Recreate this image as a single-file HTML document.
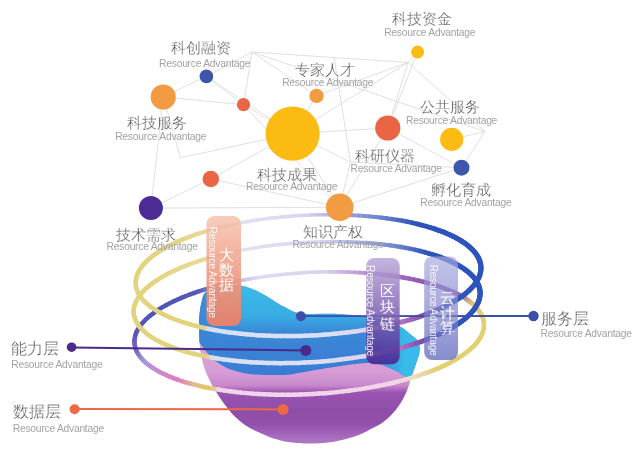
<!DOCTYPE html><html><head><meta charset="utf-8"><style>html,body{margin:0;padding:0;background:#fff;}svg{display:block;will-change:transform}.cn{font-family:"Liberation Sans",sans-serif;fill:#4c4c4c;font-size:15px;stroke:#fff;stroke-width:0.3px}.w{stroke:none}.ra{font-family:"Liberation Sans",sans-serif;fill:#a3a3a3;font-size:10.3px;letter-spacing:-0.25px}.w{fill:#fff}</style></head><body><svg width="638" height="452" viewBox="0 0 638 452"><defs>
<linearGradient id="gPur" gradientUnits="userSpaceOnUse" x1="0" y1="342" x2="0" y2="445"><stop offset="0" stop-color="#dca6da"/><stop offset="0.29" stop-color="#d69cd5"/><stop offset="0.42" stop-color="#c989cc"/><stop offset="0.49" stop-color="#9a54b1"/><stop offset="0.66" stop-color="#8f4daa"/><stop offset="0.8" stop-color="#934fac"/><stop offset="0.92" stop-color="#a66bbe"/><stop offset="1" stop-color="#b07ac4"/></linearGradient>
<linearGradient id="gBlue" gradientUnits="userSpaceOnUse" x1="0" y1="285" x2="0" y2="375"><stop offset="0" stop-color="#3cbde9"/><stop offset="0.35" stop-color="#38abe3"/><stop offset="0.52" stop-color="#3a88d7"/><stop offset="1" stop-color="#3a7bd4"/></linearGradient>
<linearGradient id="gBlueR" gradientUnits="userSpaceOnUse" x1="370" y1="0" x2="405" y2="0"><stop offset="0" stop-color="#38bbe8" stop-opacity="0"/><stop offset="1" stop-color="#38bbe8"/></linearGradient>
<linearGradient id="gBlueL" gradientUnits="userSpaceOnUse" x1="200" y1="0" x2="245" y2="0"><stop offset="0" stop-color="#3a84d6" stop-opacity="0.9"/><stop offset="1" stop-color="#3a84d6" stop-opacity="0"/></linearGradient>
<linearGradient id="gBox1" x1="0" y1="0" x2="0" y2="1"><stop offset="0" stop-color="#f6c0ac" stop-opacity="0.82"/><stop offset="0.6" stop-color="#ee977f" stop-opacity="0.93"/><stop offset="1" stop-color="#e8806a" stop-opacity="0.97"/></linearGradient>
<linearGradient id="gBox2" x1="0" y1="0" x2="0" y2="1"><stop offset="0" stop-color="#baa7d8" stop-opacity="0.85"/><stop offset="1" stop-color="#492694" stop-opacity="0.9"/></linearGradient>
<linearGradient id="gBox3" x1="0" y1="0" x2="0" y2="1"><stop offset="0" stop-color="#a9a8de" stop-opacity="0.68"/><stop offset="1" stop-color="#5d64bd" stop-opacity="0.74"/></linearGradient>
<clipPath id="bowlClip"><path d="M199.2,318.0 C199.6,313.5 200.3,307.1 201.4,302.8 C202.5,298.5 202.6,294.9 206.0,292.0 C209.4,289.1 216.0,286.6 222.0,285.5 C228.0,284.4 235.5,284.4 242.0,285.7 C248.5,286.9 254.1,289.5 261.0,293.0 C267.9,296.5 277.0,303.2 283.7,306.6 C290.4,310.0 291.9,312.3 301.0,313.5 C310.1,314.7 325.5,313.2 338.0,314.0 C350.5,314.8 365.9,316.0 376.0,318.0 C386.1,320.0 393.1,323.3 398.8,326.0 C404.5,328.7 406.8,331.4 410.0,334.0 C413.2,336.6 416.7,338.9 418.3,341.9 C419.9,344.9 419.7,348.6 419.4,352.0 C419.1,355.4 417.7,358.2 416.5,362.0 C415.3,365.8 413.3,371.0 412.0,375.0 C410.7,379.0 410.0,382.3 408.7,385.9 C407.4,389.5 405.9,393.2 404.3,396.5 C402.7,399.8 401.1,402.4 399.0,405.4 C396.9,408.3 394.6,411.4 391.9,414.2 C389.2,417.0 386.2,419.8 383.0,422.2 C379.8,424.6 376.2,426.2 372.4,428.3 C368.6,430.4 364.4,432.7 360.0,434.5 C355.6,436.3 350.9,437.7 345.9,439.0 C340.9,440.3 336.0,441.5 330.0,442.3 C324.0,443.1 316.7,443.6 310.0,443.6 C303.3,443.6 294.9,442.7 290.0,442.2 C285.1,441.7 284.1,441.3 280.5,440.4 C276.9,439.4 272.3,438.1 268.2,436.5 C264.1,434.9 259.7,433.0 255.8,431.1 C251.9,429.2 248.3,427.2 244.9,424.9 C241.5,422.6 238.5,420.0 235.6,417.2 C232.7,414.4 230.2,411.5 227.6,408.2 C225.0,404.9 222.1,400.8 219.8,397.4 C217.5,394.0 215.4,391.1 213.6,388.0 C211.8,384.9 210.6,382.2 209.0,378.8 C207.4,375.4 205.6,371.8 204.3,367.9 C203.0,364.0 202.0,359.4 201.2,355.5 C200.4,351.6 200.0,348.9 199.7,344.7 C199.4,340.4 199.3,334.4 199.2,330.0 C199.1,325.6 198.8,322.5 199.2,318.0 Z"/></clipPath></defs><rect width="638" height="452" fill="#fff"/><g stroke="#e0e0e0" stroke-width="1" fill="none"><path d="M252.0 52.0L408.0 62.5"/><path d="M252.0 52.0L206.4 76.4"/><path d="M252.0 52.0L243.5 104.7"/><path d="M252.0 52.0L316.5 95.9"/><path d="M408.0 62.5L417.6 52.0"/><path d="M408.0 62.5L316.5 95.9"/><path d="M408.0 62.5L387.8 128.0"/><path d="M408.0 62.5L485.0 131.5"/><path d="M408.0 62.5L292.6 133.6"/><path d="M206.4 76.4L163.2 97.0"/><path d="M206.4 76.4L243.5 104.7"/><path d="M206.4 76.4L292.6 133.6"/><path d="M163.2 97.0L243.5 104.7"/><path d="M243.5 104.7L292.6 133.6"/><path d="M316.5 95.9L292.6 133.6"/><path d="M163.2 97.0L150.9 208.1"/><path d="M163.2 97.0L180.5 157.7"/><path d="M180.5 157.7L292.6 133.6"/><path d="M210.8 179.0L150.9 208.1"/><path d="M210.8 179.0L292.6 133.6"/><path d="M150.9 208.1L339.7 207.2"/><path d="M387.8 128.0L461.5 167.7"/><path d="M451.7 139.4L485.0 131.5"/><path d="M485.0 131.5L461.5 167.7"/><path d="M461.5 167.7L339.7 207.2"/><path d="M387.8 128.0L339.7 207.2"/><path d="M292.6 133.6L339.7 207.2"/><path d="M292.6 133.6L387.8 128.0"/><path d="M417.6 52.0L387.8 128.0"/><path d="M210.8 179.0L339.7 207.2"/><path d="M350.5 162.0L292.6 133.6"/><path d="M350.5 162.0L339.7 207.2"/><path d="M350.5 162.0L461.5 167.7"/><path d="M350.5 162.0L334.0 56.5"/><path d="M243.5 104.7L339.7 207.2"/><path d="M252.0 52.0L485.0 131.5"/></g><g stroke-linecap="round" fill="none"><path d="M135.7 283.8L135.7 281.7" stroke="#e2d47e" stroke-width="4.50"/><path d="M135.7 281.7L135.9 279.6" stroke="#e2d47e" stroke-width="4.50"/><path d="M135.9 279.6L136.3 277.5" stroke="#e2d47e" stroke-width="4.50"/><path d="M136.3 277.5L137.0 275.4" stroke="#e2d47e" stroke-width="4.50"/><path d="M137.0 275.4L137.8 273.3" stroke="#e2d47e" stroke-width="4.50"/><path d="M137.8 273.3L138.9 271.2" stroke="#e2d47e" stroke-width="4.50"/><path d="M138.9 271.2L140.1 269.0" stroke="#e2d47e" stroke-width="4.50"/><path d="M140.1 269.0L141.6 266.9" stroke="#e2d47e" stroke-width="4.50"/><path d="M141.6 266.9L143.2 264.8" stroke="#e2d47e" stroke-width="4.50"/><path d="M143.2 264.8L145.1 262.8" stroke="#e2d47e" stroke-width="4.50"/><path d="M145.1 262.8L147.2 260.7" stroke="#e2d47e" stroke-width="4.50"/><path d="M147.2 260.7L149.4 258.7" stroke="#e2d47e" stroke-width="4.50"/><path d="M149.4 258.7L151.9 256.6" stroke="#e2d47e" stroke-width="4.50"/><path d="M151.9 256.6L154.5 254.6" stroke="#e2d47e" stroke-width="4.50"/><path d="M154.5 254.6L157.4 252.6" stroke="#e2d47e" stroke-width="4.50"/><path d="M157.4 252.6L160.4 250.7" stroke="#e2d47e" stroke-width="4.50"/><path d="M160.4 250.7L163.6 248.8" stroke="#e2d47e" stroke-width="4.50"/><path d="M163.6 248.8L166.9 246.9" stroke="#e2d47e" stroke-width="4.50"/><path d="M166.9 246.9L170.5 245.0" stroke="#e2d480" stroke-width="4.50"/><path d="M170.5 245.0L174.2 243.2" stroke="#e2d582" stroke-width="4.50"/><path d="M174.2 243.2L178.1 241.4" stroke="#e3d585" stroke-width="4.50"/><path d="M178.1 241.4L182.1 239.7" stroke="#e3d687" stroke-width="4.50"/><path d="M182.1 239.7L186.3 238.0" stroke="#e3d68a" stroke-width="4.50"/><path d="M186.3 238.0L190.6 236.4" stroke="#e4d78c" stroke-width="4.39"/><path d="M190.6 236.4L195.1 234.8" stroke="#e4d88f" stroke-width="4.28"/><path d="M195.1 234.8L199.7 233.2" stroke="#e5d891" stroke-width="4.17"/><path d="M199.7 233.2L204.5 231.7" stroke="#e5d994" stroke-width="4.06"/><path d="M204.5 231.7L209.3 230.3" stroke="#e5d996" stroke-width="3.95"/><path d="M209.3 230.3L214.3 228.9" stroke="#e5da9f" stroke-width="3.84"/><path d="M214.3 228.9L219.5 227.5" stroke="#e5dbaf" stroke-width="3.73"/><path d="M219.5 227.5L224.7 226.3" stroke="#e5dcbe" stroke-width="3.62"/><path d="M224.7 226.3L230.0 225.1" stroke="#e4decd" stroke-width="3.51"/><path d="M230.0 225.1L235.4 223.9" stroke="#e4dfdd" stroke-width="3.40"/><path d="M235.4 223.9L240.9 222.8" stroke="#e4e0ec" stroke-width="3.41"/><path d="M240.9 222.8L246.5 221.8" stroke="#e3e0f3" stroke-width="3.42"/><path d="M246.5 221.8L252.2 220.8" stroke="#e2dff3" stroke-width="3.43"/><path d="M252.2 220.8L257.9 219.9" stroke="#e1def3" stroke-width="3.45"/><path d="M257.9 219.9L263.7 219.1" stroke="#e0ddf3" stroke-width="3.46"/><path d="M263.7 219.1L269.5 218.3" stroke="#dfdcf3" stroke-width="3.47"/><path d="M269.5 218.3L275.4 217.7" stroke="#dedbf3" stroke-width="3.48"/><path d="M275.4 217.7L281.4 217.0" stroke="#dcdaf2" stroke-width="3.49"/><path d="M281.4 217.0L287.3 216.5" stroke="#dbd9f2" stroke-width="3.50"/><path d="M287.3 216.5L293.3 216.0" stroke="#dad8f2" stroke-width="3.51"/><path d="M293.3 216.0L299.3 215.6" stroke="#d9d7f2" stroke-width="3.53"/><path d="M299.3 215.6L305.4 215.3" stroke="#d8d6f2" stroke-width="3.54"/><path d="M305.4 215.3L311.4 215.0" stroke="#d3d2f0" stroke-width="3.55"/><path d="M311.4 215.0L317.4 214.8" stroke="#cacced" stroke-width="3.56"/><path d="M317.4 214.8L323.4 214.7" stroke="#c1c5ea" stroke-width="3.57"/><path d="M323.4 214.7L329.4 214.7" stroke="#b8bee7" stroke-width="3.58"/><path d="M329.4 214.7L335.4 214.7" stroke="#afb8e4" stroke-width="3.59"/><path d="M335.4 214.7L341.3 214.8" stroke="#a6b1e1" stroke-width="3.64"/><path d="M341.3 214.8L347.2 215.0" stroke="#9eaade" stroke-width="3.72"/><path d="M347.2 215.0L353.0 215.3" stroke="#96a4dc" stroke-width="3.80"/><path d="M353.0 215.3L358.8 215.6" stroke="#8f9ed9" stroke-width="3.88"/><path d="M358.8 215.6L364.6 216.0" stroke="#8798d6" stroke-width="3.96"/><path d="M364.6 216.0L370.2 216.5" stroke="#8092d4" stroke-width="4.04"/><path d="M370.2 216.5L375.8 217.0" stroke="#788cd1" stroke-width="4.12"/><path d="M375.8 217.0L381.3 217.7" stroke="#7186ce" stroke-width="4.20"/><path d="M381.3 217.7L386.7 218.3" stroke="#6a80cc" stroke-width="4.28"/><path d="M386.7 218.3L392.1 219.1" stroke="#6079c9" stroke-width="4.36"/><path d="M392.1 219.1L397.3 219.9" stroke="#5772c6" stroke-width="4.43"/><path d="M397.3 219.9L402.4 220.8" stroke="#4d6bc4" stroke-width="4.48"/><path d="M402.4 220.8L407.4 221.8" stroke="#4464c1" stroke-width="4.54"/><path d="M407.4 221.8L412.2 222.8" stroke="#3b5ebe" stroke-width="4.60"/><path d="M412.2 222.8L417.0 223.9" stroke="#3157bc" stroke-width="4.65"/><path d="M417.0 223.9L421.6 225.1" stroke="#2c54bb" stroke-width="4.71"/><path d="M421.6 225.1L426.1 226.3" stroke="#2c54bb" stroke-width="4.76"/><path d="M426.1 226.3L430.4 227.6" stroke="#2c54bb" stroke-width="4.82"/><path d="M430.4 227.6L434.6 228.9" stroke="#2c54bb" stroke-width="4.88"/><path d="M434.6 228.9L438.6 230.3" stroke="#2c54bb" stroke-width="4.93"/><path d="M438.6 230.3L442.5 231.7" stroke="#2c54bb" stroke-width="4.99"/><path d="M442.5 231.7L446.2 233.2" stroke="#2c54bb" stroke-width="5.04"/><path d="M446.2 233.2L449.7 234.8" stroke="#2c54bb" stroke-width="5.10"/><path d="M449.7 234.8L453.1 236.4" stroke="#2c54bb" stroke-width="5.11"/><path d="M453.1 236.4L456.3 238.0" stroke="#2c54bb" stroke-width="5.11"/><path d="M456.3 238.0L459.3 239.7" stroke="#2c54bb" stroke-width="5.12"/><path d="M459.3 239.7L462.1 241.5" stroke="#2c54bb" stroke-width="5.12"/><path d="M462.1 241.5L464.8 243.2" stroke="#2c54bb" stroke-width="5.13"/><path d="M464.8 243.2L467.2 245.0" stroke="#2c54bb" stroke-width="5.13"/><path d="M467.2 245.0L469.5 246.9" stroke="#2c54bb" stroke-width="5.14"/><path d="M469.5 246.9L471.5 248.8" stroke="#2c54bb" stroke-width="5.15"/><path d="M471.5 248.8L473.4 250.7" stroke="#2c54bb" stroke-width="5.15"/><path d="M473.4 250.7L475.1 252.7" stroke="#2c54bb" stroke-width="5.16"/><path d="M475.1 252.7L476.5 254.6" stroke="#2c54bb" stroke-width="5.16"/><path d="M476.5 254.6L477.8 256.6" stroke="#2c54bb" stroke-width="5.17"/><path d="M477.8 256.6L478.8 258.7" stroke="#2c54bb" stroke-width="5.17"/><path d="M478.8 258.7L479.6 260.7" stroke="#2c54bb" stroke-width="5.18"/><path d="M479.6 260.7L480.3 262.8" stroke="#2c54bb" stroke-width="5.19"/><path d="M480.3 262.8L480.7 264.9" stroke="#2c54bb" stroke-width="5.19"/><path d="M480.7 264.9L480.9 267.0" stroke="#2c54bb" stroke-width="5.20"/></g><g stroke-linecap="round" fill="none"><path d="M133.7 312.7L133.7 310.6" stroke="#e2d47e" stroke-width="4.50"/><path d="M133.7 310.6L133.9 308.5" stroke="#e2d47e" stroke-width="4.50"/><path d="M133.9 308.5L134.3 306.4" stroke="#e2d47e" stroke-width="4.50"/><path d="M134.3 306.4L134.9 304.3" stroke="#e2d47e" stroke-width="4.50"/><path d="M134.9 304.3L135.7 302.1" stroke="#e2d47e" stroke-width="4.50"/><path d="M135.7 302.1L136.8 300.0" stroke="#e2d47e" stroke-width="4.50"/><path d="M136.8 300.0L138.0 297.9" stroke="#e2d47e" stroke-width="4.50"/><path d="M138.0 297.9L139.4 295.8" stroke="#e2d47e" stroke-width="4.50"/><path d="M139.4 295.8L141.1 293.7" stroke="#e2d47e" stroke-width="4.50"/><path d="M141.1 293.7L142.9 291.6" stroke="#e2d47e" stroke-width="4.50"/><path d="M142.9 291.6L145.0 289.5" stroke="#e2d47e" stroke-width="4.50"/><path d="M145.0 289.5L147.2 287.4" stroke="#e2d47e" stroke-width="4.50"/><path d="M147.2 287.4L149.7 285.4" stroke="#e2d47e" stroke-width="4.50"/><path d="M149.7 285.4L152.3 283.4" stroke="#e2d47f" stroke-width="4.50"/><path d="M152.3 283.4L155.1 281.4" stroke="#e2d481" stroke-width="4.50"/><path d="M155.1 281.4L158.1 279.4" stroke="#e2d583" stroke-width="4.50"/><path d="M158.1 279.4L161.3 277.4" stroke="#e3d584" stroke-width="4.50"/><path d="M161.3 277.4L164.7 275.5" stroke="#e3d586" stroke-width="4.50"/><path d="M164.7 275.5L168.2 273.6" stroke="#e3d688" stroke-width="4.50"/><path d="M168.2 273.6L171.9 271.8" stroke="#e3d689" stroke-width="4.50"/><path d="M171.9 271.8L175.8 270.0" stroke="#e4d78b" stroke-width="4.50"/><path d="M175.8 270.0L179.8 268.2" stroke="#e4d78d" stroke-width="4.50"/><path d="M179.8 268.2L184.0 266.5" stroke="#e4d78e" stroke-width="4.50"/><path d="M184.0 266.5L188.4 264.8" stroke="#e4d890" stroke-width="4.39"/><path d="M188.4 264.8L192.8 263.1" stroke="#e5d892" stroke-width="4.28"/><path d="M192.8 263.1L197.5 261.5" stroke="#e5d993" stroke-width="4.17"/><path d="M197.5 261.5L202.2 260.0" stroke="#e5d995" stroke-width="4.06"/><path d="M202.2 260.0L207.1 258.5" stroke="#e5d997" stroke-width="3.95"/><path d="M207.1 258.5L212.1 257.1" stroke="#e5da9f" stroke-width="3.84"/><path d="M212.1 257.1L217.2 255.7" stroke="#e5dbaf" stroke-width="3.73"/><path d="M217.2 255.7L222.4 254.3" stroke="#e5dcbe" stroke-width="3.62"/><path d="M222.4 254.3L227.8 253.1" stroke="#e4decd" stroke-width="3.51"/><path d="M227.8 253.1L233.2 251.9" stroke="#e4dfdd" stroke-width="3.40"/><path d="M233.2 251.9L238.7 250.7" stroke="#e4e0ec" stroke-width="3.41"/><path d="M238.7 250.7L244.3 249.6" stroke="#e3e0f3" stroke-width="3.42"/><path d="M244.3 249.6L250.0 248.6" stroke="#e2dff3" stroke-width="3.43"/><path d="M250.0 248.6L255.7 247.7" stroke="#e1dff3" stroke-width="3.44"/><path d="M255.7 247.7L261.5 246.8" stroke="#e1def3" stroke-width="3.45"/><path d="M261.5 246.8L267.4 246.0" stroke="#e0ddf3" stroke-width="3.46"/><path d="M267.4 246.0L273.3 245.2" stroke="#dfdcf3" stroke-width="3.47"/><path d="M273.3 245.2L279.3 244.5" stroke="#dedbf3" stroke-width="3.48"/><path d="M279.3 244.5L285.3 243.9" stroke="#dddbf2" stroke-width="3.49"/><path d="M285.3 243.9L291.3 243.4" stroke="#dcdaf2" stroke-width="3.50"/><path d="M291.3 243.4L297.3 242.9" stroke="#dbd9f2" stroke-width="3.51"/><path d="M297.3 242.9L303.3 242.5" stroke="#dbd8f2" stroke-width="3.52"/><path d="M303.3 242.5L309.4 242.2" stroke="#dad7f2" stroke-width="3.53"/><path d="M309.4 242.2L315.4 241.9" stroke="#d9d7f2" stroke-width="3.54"/><path d="M315.4 241.9L321.5 241.8" stroke="#d8d6f2" stroke-width="3.55"/><path d="M321.5 241.8L327.5 241.7" stroke="#d4d3f0" stroke-width="3.56"/><path d="M327.5 241.7L333.5 241.6" stroke="#cccdee" stroke-width="3.57"/><path d="M333.5 241.6L339.4 241.7" stroke="#c4c7eb" stroke-width="3.58"/><path d="M339.4 241.7L345.3 241.8" stroke="#bdc2e9" stroke-width="3.59"/><path d="M345.3 241.8L351.2 242.0" stroke="#b5bce6" stroke-width="3.60"/><path d="M351.2 242.0L357.0 242.3" stroke="#adb6e3" stroke-width="3.68"/><path d="M357.0 242.3L362.8 242.6" stroke="#a5b0e1" stroke-width="3.76"/><path d="M362.8 242.6L368.5 243.0" stroke="#9eaade" stroke-width="3.84"/><path d="M368.5 243.0L374.1 243.5" stroke="#96a4db" stroke-width="3.92"/><path d="M374.1 243.5L379.6 244.1" stroke="#8e9dd8" stroke-width="4.00"/><path d="M379.6 244.1L385.1 244.7" stroke="#8697d5" stroke-width="4.08"/><path d="M385.1 244.7L390.4 245.4" stroke="#7e90d2" stroke-width="4.16"/><path d="M390.4 245.4L395.7 246.2" stroke="#768acf" stroke-width="4.24"/><path d="M395.7 246.2L400.8 247.0" stroke="#6e84cc" stroke-width="4.32"/><path d="M400.8 247.0L405.8 247.9" stroke="#647cc9" stroke-width="4.40"/><path d="M405.8 247.9L410.7 248.9" stroke="#5a75c6" stroke-width="4.46"/><path d="M410.7 248.9L415.5 249.9" stroke="#506dc4" stroke-width="4.51"/><path d="M415.5 249.9L420.1 251.0" stroke="#4666c1" stroke-width="4.57"/><path d="M420.1 251.0L424.7 252.2" stroke="#3c5fbe" stroke-width="4.62"/><path d="M424.7 252.2L429.0 253.4" stroke="#3257bc" stroke-width="4.68"/><path d="M429.0 253.4L433.2 254.7" stroke="#2c54bb" stroke-width="4.74"/><path d="M433.2 254.7L437.3 256.0" stroke="#2c54bb" stroke-width="4.79"/><path d="M437.3 256.0L441.2 257.4" stroke="#2c54bb" stroke-width="4.85"/><path d="M441.2 257.4L444.9 258.9" stroke="#2c54bb" stroke-width="4.90"/><path d="M444.9 258.9L448.5 260.4" stroke="#2c54bb" stroke-width="4.96"/><path d="M448.5 260.4L451.9 261.9" stroke="#2c54bb" stroke-width="5.02"/><path d="M451.9 261.9L455.1 263.5" stroke="#2c54bb" stroke-width="5.07"/><path d="M455.1 263.5L458.2 265.2" stroke="#2c54bb" stroke-width="5.10"/><path d="M458.2 265.2L461.0 266.9" stroke="#2c54bb" stroke-width="5.11"/><path d="M461.0 266.9L463.7 268.6" stroke="#2c54bb" stroke-width="5.12"/><path d="M463.7 268.6L466.2 270.4" stroke="#2c54bb" stroke-width="5.12"/><path d="M466.2 270.4L468.4 272.2" stroke="#2c54bb" stroke-width="5.13"/><path d="M468.4 272.2L470.5 274.1" stroke="#2c54bb" stroke-width="5.14"/><path d="M470.5 274.1L472.4 276.0" stroke="#2c54bb" stroke-width="5.14"/><path d="M472.4 276.0L474.1 277.9" stroke="#2c54bb" stroke-width="5.15"/><path d="M474.1 277.9L475.6 279.9" stroke="#2c54bb" stroke-width="5.16"/><path d="M475.6 279.9L476.8 281.9" stroke="#2c54bb" stroke-width="5.16"/><path d="M476.8 281.9L477.9 283.9" stroke="#2c54bb" stroke-width="5.17"/><path d="M477.9 283.9L478.8 285.9" stroke="#2c54bb" stroke-width="5.18"/><path d="M478.8 285.9L479.4 288.0" stroke="#2c54bb" stroke-width="5.18"/><path d="M479.4 288.0L479.9 290.0" stroke="#2c54bb" stroke-width="5.19"/><path d="M479.9 290.0L480.1 292.1" stroke="#2c54bb" stroke-width="5.20"/></g><g stroke-linecap="round" fill="none"><path d="M134.5 342.8L134.4 340.6" stroke="#6a5fc0" stroke-width="4.42"/><path d="M134.4 340.6L134.7 338.5" stroke="#675dbe" stroke-width="4.42"/><path d="M134.7 338.5L135.1 336.4" stroke="#645cbd" stroke-width="4.42"/><path d="M135.1 336.4L135.7 334.2" stroke="#605abc" stroke-width="4.42"/><path d="M135.7 334.2L136.5 332.1" stroke="#5d58ba" stroke-width="4.42"/><path d="M136.5 332.1L137.6 329.9" stroke="#5b57b9" stroke-width="4.42"/><path d="M137.6 329.9L138.9 327.8" stroke="#5a57b9" stroke-width="4.42"/><path d="M138.9 327.8L140.3 325.7" stroke="#5957b9" stroke-width="4.42"/><path d="M140.3 325.7L142.0 323.5" stroke="#5756b9" stroke-width="4.41"/><path d="M142.0 323.5L143.9 321.4" stroke="#5656b9" stroke-width="4.41"/><path d="M143.9 321.4L145.9 319.3" stroke="#5555b8" stroke-width="4.41"/><path d="M145.9 319.3L148.2 317.3" stroke="#5455b8" stroke-width="4.41"/><path d="M148.2 317.3L150.7 315.2" stroke="#5355b8" stroke-width="4.41"/><path d="M150.7 315.2L153.4 313.2" stroke="#5154b8" stroke-width="4.41"/><path d="M153.4 313.2L156.2 311.1" stroke="#5054b8" stroke-width="4.41"/><path d="M156.2 311.1L159.3 309.2" stroke="#5054b8" stroke-width="4.41"/><path d="M159.3 309.2L162.5 307.2" stroke="#5054b8" stroke-width="4.41"/><path d="M162.5 307.2L165.9 305.3" stroke="#5054b8" stroke-width="4.41"/><path d="M165.9 305.3L169.5 303.4" stroke="#5155b8" stroke-width="4.41"/><path d="M169.5 303.4L173.2 301.5" stroke="#5155b8" stroke-width="4.40"/><path d="M173.2 301.5L177.1 299.7" stroke="#5256b8" stroke-width="4.40"/><path d="M177.1 299.7L181.2 297.9" stroke="#5256b8" stroke-width="4.40"/><path d="M181.2 297.9L185.4 296.2" stroke="#5256b8" stroke-width="4.40"/><path d="M185.4 296.2L189.8 294.5" stroke="#5357b8" stroke-width="4.40"/><path d="M189.8 294.5L194.4 292.9" stroke="#5357b8" stroke-width="4.40"/><path d="M194.4 292.9L199.0 291.3" stroke="#5357b8" stroke-width="4.34"/><path d="M199.0 291.3L203.8 289.7" stroke="#5b5ebb" stroke-width="4.23"/><path d="M203.8 289.7L208.8 288.3" stroke="#6a6cc1" stroke-width="4.12"/><path d="M208.8 288.3L213.8 286.8" stroke="#7879c7" stroke-width="4.01"/><path d="M213.8 286.8L219.0 285.5" stroke="#8786ce" stroke-width="3.90"/><path d="M219.0 285.5L224.3 284.1" stroke="#9694d4" stroke-width="3.79"/><path d="M224.3 284.1L229.6 282.9" stroke="#a4a1da" stroke-width="3.68"/><path d="M229.6 282.9L235.1 281.7" stroke="#b0acdf" stroke-width="3.57"/><path d="M235.1 281.7L240.7 280.6" stroke="#bab5e3" stroke-width="3.46"/><path d="M240.7 280.6L246.3 279.5" stroke="#c4bee7" stroke-width="3.41"/><path d="M246.3 279.5L252.1 278.5" stroke="#cec7ea" stroke-width="3.42"/><path d="M252.1 278.5L257.9 277.5" stroke="#d8d0ee" stroke-width="3.43"/><path d="M257.9 277.5L263.7 276.7" stroke="#e2daf2" stroke-width="3.44"/><path d="M263.7 276.7L269.7 275.9" stroke="#e1d9f1" stroke-width="3.45"/><path d="M269.7 275.9L275.6 275.2" stroke="#e0d8f1" stroke-width="3.46"/><path d="M275.6 275.2L281.6 274.5" stroke="#e0d7f0" stroke-width="3.47"/><path d="M281.6 274.5L287.7 273.9" stroke="#dfd6f0" stroke-width="3.48"/><path d="M287.7 273.9L293.7 273.4" stroke="#ded5f0" stroke-width="3.49"/><path d="M293.7 273.4L299.8 273.0" stroke="#ded4ef" stroke-width="3.50"/><path d="M299.8 273.0L305.9 272.6" stroke="#ddd3ef" stroke-width="3.51"/><path d="M305.9 272.6L312.0 272.3" stroke="#dcd2ef" stroke-width="3.52"/><path d="M312.0 272.3L318.1 272.1" stroke="#dcd1ee" stroke-width="3.54"/><path d="M318.1 272.1L324.2 271.9" stroke="#dbd0ee" stroke-width="3.55"/><path d="M324.2 271.9L330.3 271.9" stroke="#dbd0ee" stroke-width="3.56"/><path d="M330.3 271.9L336.3 271.9" stroke="#d5c6e9" stroke-width="3.57"/><path d="M336.3 271.9L342.3 271.9" stroke="#d0bde5" stroke-width="3.58"/><path d="M342.3 271.9L348.3 272.1" stroke="#cbb4e0" stroke-width="3.59"/><path d="M348.3 272.1L354.2 272.3" stroke="#c6aadc" stroke-width="3.60"/><path d="M354.2 272.3L360.1 272.6" stroke="#c0a1d7" stroke-width="3.72"/><path d="M360.1 272.6L365.9 273.0" stroke="#bb98d3" stroke-width="3.84"/><path d="M365.9 273.0L371.6 273.5" stroke="#b68ece" stroke-width="3.96"/><path d="M371.6 273.5L377.3 274.0" stroke="#b185ca" stroke-width="4.08"/><path d="M377.3 274.0L382.8 274.6" stroke="#ac7cc6" stroke-width="4.20"/><path d="M382.8 274.6L388.3 275.3" stroke="#a977c3" stroke-width="4.32"/><path d="M388.3 275.3L393.7 276.0" stroke="#a673c1" stroke-width="4.44"/><path d="M393.7 276.0L399.0 276.8" stroke="#a36fbf" stroke-width="4.50"/><path d="M399.0 276.8L404.2 277.7" stroke="#a06bbd" stroke-width="4.50"/><path d="M404.2 277.7L409.3 278.6" stroke="#9d67bb" stroke-width="4.50"/><path d="M409.3 278.6L414.2 279.6" stroke="#9a62b8" stroke-width="4.50"/><path d="M414.2 279.6L419.0 280.7" stroke="#975eb6" stroke-width="4.50"/><path d="M419.0 280.7L423.7 281.9" stroke="#945ab4" stroke-width="4.50"/><path d="M423.7 281.9L428.2 283.1" stroke="#9156b2" stroke-width="4.50"/><path d="M428.2 283.1L432.6 284.3" stroke="#8e52b0" stroke-width="4.50"/><path d="M432.6 284.3L436.9 285.6" stroke="#8f53ae" stroke-width="4.50"/><path d="M436.9 285.6L440.9 287.0" stroke="#9154ad" stroke-width="4.50"/><path d="M440.9 287.0L444.9 288.5" stroke="#9255ac" stroke-width="4.50"/><path d="M444.9 288.5L448.6 290.0" stroke="#9456ab" stroke-width="4.50"/><path d="M448.6 290.0L452.2 291.5" stroke="#9657aa" stroke-width="4.50"/><path d="M452.2 291.5L455.6 293.1" stroke="#9758a9" stroke-width="4.50"/><path d="M455.6 293.1L458.9 294.7" stroke="#9959a8" stroke-width="4.50"/><path d="M458.9 294.7L461.9 296.4" stroke="#a063a3" stroke-width="4.50"/><path d="M461.9 296.4L464.8 298.2" stroke="#ac779a" stroke-width="4.50"/><path d="M464.8 298.2L467.5 300.0" stroke="#b88b90" stroke-width="4.50"/><path d="M467.5 300.0L470.0 301.8" stroke="#c49e87" stroke-width="4.50"/><path d="M470.0 301.8L472.3 303.6" stroke="#d0b27e" stroke-width="4.50"/><path d="M472.3 303.6L474.4 305.5" stroke="#dcc674" stroke-width="4.50"/><path d="M474.4 305.5L476.3 307.5" stroke="#e2d070" stroke-width="4.50"/><path d="M476.3 307.5L478.0 309.4" stroke="#e2d070" stroke-width="4.50"/><path d="M478.0 309.4L479.4 311.4" stroke="#e2d070" stroke-width="4.50"/><path d="M479.4 311.4L480.7 313.4" stroke="#e2d070" stroke-width="4.50"/><path d="M480.7 313.4L481.8 315.5" stroke="#e2d070" stroke-width="4.50"/><path d="M481.8 315.5L482.6 317.5" stroke="#e2d070" stroke-width="4.50"/><path d="M482.6 317.5L483.3 319.6" stroke="#e2d070" stroke-width="4.50"/><path d="M483.3 319.6L483.7 321.7" stroke="#e2d070" stroke-width="4.50"/><path d="M483.7 321.7L483.9 323.8" stroke="#e2d070" stroke-width="4.50"/></g><g clip-path="url(#bowlClip)"><rect x="190" y="270" width="240" height="180" fill="url(#gPur)"/><path d="M190.0,334.0 C191.6,346.2 197.0,339.9 199.8,343.0 C202.6,346.1 204.5,349.6 207.0,352.5 C209.5,355.4 211.5,357.8 215.0,360.5 C218.5,363.2 223.6,366.5 228.0,368.5 C232.4,370.5 237.0,371.4 241.4,372.4 C245.8,373.4 249.1,374.0 254.7,374.4 C260.3,374.8 268.8,375.0 275.0,375.0 C281.2,375.0 282.7,375.4 292.0,374.2 C301.3,372.9 317.8,369.4 331.0,367.5 C344.2,365.6 360.5,362.6 371.0,363.0 C381.5,363.4 388.2,367.7 394.0,370.0 C399.8,372.3 402.7,375.3 406.0,377.0 C409.3,378.7 410.0,379.2 414.0,380.0 C418.0,380.8 427.3,400.3 430.0,382.0 C432.7,363.7 470.0,288.7 430.0,270.0 C390.0,251.3 230.0,259.3 190.0,270.0 C150.0,280.7 188.4,321.8 190.0,334.0 Z" fill="url(#gBlue)"/><path d="M190.0,334.0 C191.6,346.2 197.0,339.9 199.8,343.0 C202.6,346.1 204.5,349.6 207.0,352.5 C209.5,355.4 211.5,357.8 215.0,360.5 C218.5,363.2 223.6,366.5 228.0,368.5 C232.4,370.5 237.0,371.4 241.4,372.4 C245.8,373.4 249.1,374.0 254.7,374.4 C260.3,374.8 268.8,375.0 275.0,375.0 C281.2,375.0 282.7,375.4 292.0,374.2 C301.3,372.9 317.8,369.4 331.0,367.5 C344.2,365.6 360.5,362.6 371.0,363.0 C381.5,363.4 388.2,367.7 394.0,370.0 C399.8,372.3 402.7,375.3 406.0,377.0 C409.3,378.7 410.0,379.2 414.0,380.0 C418.0,380.8 427.3,400.3 430.0,382.0 C432.7,363.7 470.0,288.7 430.0,270.0 C390.0,251.3 230.0,259.3 190.0,270.0 C150.0,280.7 188.4,321.8 190.0,334.0 Z" fill="url(#gBlueR)"/><path d="M190.0,334.0 C191.6,346.2 197.0,339.9 199.8,343.0 C202.6,346.1 204.5,349.6 207.0,352.5 C209.5,355.4 211.5,357.8 215.0,360.5 C218.5,363.2 223.6,366.5 228.0,368.5 C232.4,370.5 237.0,371.4 241.4,372.4 C245.8,373.4 249.1,374.0 254.7,374.4 C260.3,374.8 268.8,375.0 275.0,375.0 C281.2,375.0 282.7,375.4 292.0,374.2 C301.3,372.9 317.8,369.4 331.0,367.5 C344.2,365.6 360.5,362.6 371.0,363.0 C381.5,363.4 388.2,367.7 394.0,370.0 C399.8,372.3 402.7,375.3 406.0,377.0 C409.3,378.7 410.0,379.2 414.0,380.0 C418.0,380.8 427.3,400.3 430.0,382.0 C432.7,363.7 470.0,288.7 430.0,270.0 C390.0,251.3 230.0,259.3 190.0,270.0 C150.0,280.7 188.4,321.8 190.0,334.0 Z" fill="url(#gBlueL)"/></g><g stroke-linecap="round" fill="none"><path d="M480.9 267.0L480.9 269.1" stroke="#2c54bb" stroke-width="5.20"/><path d="M480.9 269.1L480.7 271.2" stroke="#2c54bb" stroke-width="5.19"/><path d="M480.7 271.2L480.3 273.3" stroke="#2c54bb" stroke-width="5.18"/><path d="M480.3 273.3L479.6 275.4" stroke="#2c54bb" stroke-width="5.17"/><path d="M479.6 275.4L478.8 277.5" stroke="#2c54bb" stroke-width="5.16"/><path d="M478.8 277.5L477.7 279.6" stroke="#2c54bb" stroke-width="5.15"/><path d="M477.7 279.6L476.5 281.8" stroke="#2d54bb" stroke-width="5.14"/><path d="M476.5 281.8L475.0 283.9" stroke="#2d54bb" stroke-width="5.13"/><path d="M475.0 283.9L473.4 286.0" stroke="#2d54bb" stroke-width="5.12"/><path d="M473.4 286.0L471.5 288.0" stroke="#2d54bb" stroke-width="5.12"/><path d="M471.5 288.0L469.4 290.1" stroke="#2d54ba" stroke-width="5.11"/><path d="M469.4 290.1L467.2 292.1" stroke="#2d54ba" stroke-width="5.10"/><path d="M467.2 292.1L464.7 294.2" stroke="#2d54ba" stroke-width="5.09"/><path d="M464.7 294.2L462.1 296.2" stroke="#2e54ba" stroke-width="5.08"/><path d="M462.1 296.2L459.2 298.2" stroke="#2e54ba" stroke-width="5.07"/><path d="M459.2 298.2L456.2 300.1" stroke="#2e54ba" stroke-width="5.06"/><path d="M456.2 300.1L453.0 302.0" stroke="#2e54ba" stroke-width="5.05"/><path d="M453.0 302.0L449.7 303.9" stroke="#2e54ba" stroke-width="5.04"/><path d="M449.7 303.9L446.1 305.8" stroke="#2e54ba" stroke-width="5.04"/><path d="M446.1 305.8L442.4 307.6" stroke="#3653b9" stroke-width="5.03"/><path d="M442.4 307.6L438.5 309.4" stroke="#4552b7" stroke-width="5.02"/><path d="M438.5 309.4L434.5 311.1" stroke="#5451b5" stroke-width="5.01"/><path d="M434.5 311.1L430.3 312.8" stroke="#6451b3" stroke-width="5.00"/><path d="M430.3 312.8L426.0 314.4" stroke="#7350b1" stroke-width="4.96"/><path d="M426.0 314.4L421.5 316.0" stroke="#824faf" stroke-width="4.92"/><path d="M421.5 316.0L416.9 317.6" stroke="#8e52b0" stroke-width="4.88"/><path d="M416.9 317.6L412.1 319.1" stroke="#965ab4" stroke-width="4.84"/><path d="M412.1 319.1L407.3 320.5" stroke="#9e62b8" stroke-width="4.80"/><path d="M407.3 320.5L402.3 321.9" stroke="#a66abc" stroke-width="4.76"/><path d="M402.3 321.9L397.1 323.3" stroke="#ae72c0" stroke-width="4.72"/><path d="M397.1 323.3L391.9 324.5" stroke="#b881c7" stroke-width="4.68"/><path d="M391.9 324.5L386.6 325.7" stroke="#c497d1" stroke-width="4.64"/><path d="M386.6 325.7L381.2 326.9" stroke="#d1aedb" stroke-width="4.60"/><path d="M381.2 326.9L375.7 328.0" stroke="#ddc4e5" stroke-width="4.56"/><path d="M375.7 328.0L370.1 329.0" stroke="#e3d0ea" stroke-width="4.52"/><path d="M370.1 329.0L364.4 330.0" stroke="#e1d2eb" stroke-width="4.50"/><path d="M364.4 330.0L358.7 330.9" stroke="#e0d4ec" stroke-width="4.50"/><path d="M358.7 330.9L352.9 331.7" stroke="#dfd6ee" stroke-width="4.50"/><path d="M352.9 331.7L347.1 332.5" stroke="#ddd8ef" stroke-width="4.50"/><path d="M347.1 332.5L341.2 333.1" stroke="#dcdaf0" stroke-width="4.50"/><path d="M341.2 333.1L335.2 333.8" stroke="#dadcf1" stroke-width="4.50"/><path d="M335.2 333.8L329.3 334.3" stroke="#d9def2" stroke-width="4.50"/><path d="M329.3 334.3L323.3 334.8" stroke="#d8e0f4" stroke-width="4.50"/><path d="M323.3 334.8L317.3 335.2" stroke="#d8e0f4" stroke-width="4.50"/><path d="M317.3 335.2L311.2 335.5" stroke="#d8e0f4" stroke-width="4.50"/><path d="M311.2 335.5L305.2 335.8" stroke="#d8e0f4" stroke-width="4.50"/><path d="M305.2 335.8L299.2 336.0" stroke="#d8e0f4" stroke-width="4.50"/><path d="M299.2 336.0L293.2 336.1" stroke="#d8e0f4" stroke-width="4.50"/><path d="M293.2 336.1L287.2 336.1" stroke="#d8e0f4" stroke-width="4.50"/><path d="M287.2 336.1L281.2 336.1" stroke="#d8e0f4" stroke-width="4.50"/><path d="M281.2 336.1L275.3 336.0" stroke="#d8e0f4" stroke-width="4.50"/><path d="M275.3 336.0L269.4 335.8" stroke="#d8e0f4" stroke-width="4.50"/><path d="M269.4 335.8L263.6 335.5" stroke="#d8e0f4" stroke-width="4.50"/><path d="M263.6 335.5L257.8 335.2" stroke="#d8e0f4" stroke-width="4.50"/><path d="M257.8 335.2L252.0 334.8" stroke="#d8e0f4" stroke-width="4.50"/><path d="M252.0 334.8L246.4 334.3" stroke="#d8e0f4" stroke-width="4.50"/><path d="M246.4 334.3L240.8 333.8" stroke="#d8e0f4" stroke-width="4.50"/><path d="M240.8 333.8L235.3 333.1" stroke="#d8e0f4" stroke-width="4.50"/><path d="M235.3 333.1L229.9 332.5" stroke="#d8e0f4" stroke-width="4.50"/><path d="M229.9 332.5L224.5 331.7" stroke="#d8e0f4" stroke-width="4.50"/><path d="M224.5 331.7L219.3 330.9" stroke="#d8e0f4" stroke-width="4.50"/><path d="M219.3 330.9L214.2 330.0" stroke="#d8e0f4" stroke-width="4.50"/><path d="M214.2 330.0L209.2 329.0" stroke="#d8e0f4" stroke-width="4.50"/><path d="M209.2 329.0L204.4 328.0" stroke="#d9dee0" stroke-width="4.50"/><path d="M204.4 328.0L199.6 326.9" stroke="#e0d691" stroke-width="4.50"/><path d="M199.6 326.9L195.0 325.7" stroke="#e2d47e" stroke-width="4.50"/><path d="M195.0 325.7L190.5 324.5" stroke="#e2d47e" stroke-width="4.50"/><path d="M190.5 324.5L186.2 323.2" stroke="#e2d47e" stroke-width="4.50"/><path d="M186.2 323.2L182.0 321.9" stroke="#e2d47e" stroke-width="4.50"/><path d="M182.0 321.9L178.0 320.5" stroke="#e2d47e" stroke-width="4.50"/><path d="M178.0 320.5L174.1 319.1" stroke="#e2d47e" stroke-width="4.50"/><path d="M174.1 319.1L170.4 317.6" stroke="#e2d47e" stroke-width="4.50"/><path d="M170.4 317.6L166.9 316.0" stroke="#e2d47e" stroke-width="4.50"/><path d="M166.9 316.0L163.5 314.4" stroke="#e2d47e" stroke-width="4.50"/><path d="M163.5 314.4L160.3 312.8" stroke="#e2d47e" stroke-width="4.50"/><path d="M160.3 312.8L157.3 311.1" stroke="#e2d47e" stroke-width="4.50"/><path d="M157.3 311.1L154.5 309.3" stroke="#e2d47e" stroke-width="4.50"/><path d="M154.5 309.3L151.8 307.6" stroke="#e2d47e" stroke-width="4.50"/><path d="M151.8 307.6L149.4 305.8" stroke="#e2d47e" stroke-width="4.50"/><path d="M149.4 305.8L147.1 303.9" stroke="#e2d47e" stroke-width="4.50"/><path d="M147.1 303.9L145.1 302.0" stroke="#e2d47e" stroke-width="4.50"/><path d="M145.1 302.0L143.2 300.1" stroke="#e2d47e" stroke-width="4.50"/><path d="M143.2 300.1L141.5 298.1" stroke="#e2d47e" stroke-width="4.50"/><path d="M141.5 298.1L140.1 296.2" stroke="#e2d47e" stroke-width="4.50"/><path d="M140.1 296.2L138.8 294.2" stroke="#e2d47e" stroke-width="4.50"/><path d="M138.8 294.2L137.8 292.1" stroke="#e2d47e" stroke-width="4.50"/><path d="M137.8 292.1L137.0 290.1" stroke="#e2d47e" stroke-width="4.50"/><path d="M137.0 290.1L136.3 288.0" stroke="#e2d47e" stroke-width="4.50"/><path d="M136.3 288.0L135.9 285.9" stroke="#e2d47e" stroke-width="4.50"/><path d="M135.9 285.9L135.7 283.8" stroke="#e2d47e" stroke-width="4.50"/></g><g stroke-linecap="round" fill="none"><path d="M480.1 292.1L480.1 294.2" stroke="#2c54bb" stroke-width="5.20"/><path d="M480.1 294.2L479.9 296.3" stroke="#2c54bb" stroke-width="5.19"/><path d="M479.9 296.3L479.5 298.4" stroke="#2c54bb" stroke-width="5.18"/><path d="M479.5 298.4L478.9 300.5" stroke="#2c54bb" stroke-width="5.17"/><path d="M478.9 300.5L478.1 302.7" stroke="#2c54bb" stroke-width="5.16"/><path d="M478.1 302.7L477.0 304.8" stroke="#2c54bb" stroke-width="5.15"/><path d="M477.0 304.8L475.8 306.9" stroke="#2c54bb" stroke-width="5.14"/><path d="M475.8 306.9L474.4 309.0" stroke="#2d54bb" stroke-width="5.13"/><path d="M474.4 309.0L472.7 311.1" stroke="#2d54bb" stroke-width="5.12"/><path d="M472.7 311.1L470.9 313.2" stroke="#2d54bb" stroke-width="5.12"/><path d="M470.9 313.2L468.8 315.3" stroke="#2d54ba" stroke-width="5.11"/><path d="M468.8 315.3L466.6 317.4" stroke="#2d54ba" stroke-width="5.10"/><path d="M466.6 317.4L464.1 319.4" stroke="#2d54ba" stroke-width="5.09"/><path d="M464.1 319.4L461.5 321.4" stroke="#2e54ba" stroke-width="5.08"/><path d="M461.5 321.4L458.7 323.4" stroke="#2e54ba" stroke-width="5.07"/><path d="M458.7 323.4L455.7 325.4" stroke="#2e54ba" stroke-width="5.06"/><path d="M455.7 325.4L452.5 327.4" stroke="#2e54ba" stroke-width="5.05"/><path d="M452.5 327.4L449.1 329.3" stroke="#2e54ba" stroke-width="5.04"/><path d="M449.1 329.3L445.6 331.2" stroke="#2e54ba" stroke-width="5.04"/><path d="M445.6 331.2L441.9 333.0" stroke="#2e54ba" stroke-width="5.03"/><path d="M441.9 333.0L438.0 334.8" stroke="#3653b9" stroke-width="5.02"/><path d="M438.0 334.8L434.0 336.6" stroke="#4552b7" stroke-width="5.01"/><path d="M434.0 336.6L429.8 338.3" stroke="#5451b5" stroke-width="5.00"/><path d="M429.8 338.3L425.4 340.0" stroke="#6451b3" stroke-width="4.96"/><path d="M425.4 340.0L421.0 341.7" stroke="#7350b1" stroke-width="4.92"/><path d="M421.0 341.7L416.3 343.3" stroke="#824faf" stroke-width="4.88"/><path d="M416.3 343.3L411.6 344.8" stroke="#8f53b0" stroke-width="4.84"/><path d="M411.6 344.8L406.7 346.3" stroke="#995db5" stroke-width="4.80"/><path d="M406.7 346.3L401.7 347.7" stroke="#a367ba" stroke-width="4.76"/><path d="M401.7 347.7L396.6 349.1" stroke="#ad71bf" stroke-width="4.72"/><path d="M396.6 349.1L391.4 350.5" stroke="#b67fc6" stroke-width="4.68"/><path d="M391.4 350.5L386.0 351.7" stroke="#c091ce" stroke-width="4.64"/><path d="M386.0 351.7L380.6 352.9" stroke="#caa3d6" stroke-width="4.60"/><path d="M380.6 352.9L375.1 354.1" stroke="#d3b5de" stroke-width="4.56"/><path d="M375.1 354.1L369.5 355.2" stroke="#ddc7e6" stroke-width="4.52"/><path d="M369.5 355.2L363.8 356.2" stroke="#e1d1ea" stroke-width="4.50"/><path d="M363.8 356.2L358.1 357.1" stroke="#e0d3ec" stroke-width="4.50"/><path d="M358.1 357.1L352.3 358.0" stroke="#ded5ed" stroke-width="4.50"/><path d="M352.3 358.0L346.4 358.8" stroke="#ddd7ee" stroke-width="4.50"/><path d="M346.4 358.8L340.5 359.6" stroke="#dcd9f0" stroke-width="4.50"/><path d="M340.5 359.6L334.5 360.3" stroke="#dadbf1" stroke-width="4.50"/><path d="M334.5 360.3L328.5 360.9" stroke="#d9ddf2" stroke-width="4.50"/><path d="M328.5 360.9L322.5 361.4" stroke="#d8e0f4" stroke-width="4.50"/><path d="M322.5 361.4L316.5 361.9" stroke="#d8e0f4" stroke-width="4.50"/><path d="M316.5 361.9L310.5 362.3" stroke="#d8e0f4" stroke-width="4.50"/><path d="M310.5 362.3L304.4 362.6" stroke="#d8e0f4" stroke-width="4.50"/><path d="M304.4 362.6L298.4 362.9" stroke="#d8e0f4" stroke-width="4.50"/><path d="M298.4 362.9L292.3 363.0" stroke="#d8e0f4" stroke-width="4.50"/><path d="M292.3 363.0L286.3 363.1" stroke="#d8e0f4" stroke-width="4.50"/><path d="M286.3 363.1L280.3 363.2" stroke="#d8e0f4" stroke-width="4.50"/><path d="M280.3 363.2L274.4 363.1" stroke="#d8e0f4" stroke-width="4.50"/><path d="M274.4 363.1L268.5 363.0" stroke="#d8e0f4" stroke-width="4.50"/><path d="M268.5 363.0L262.6 362.8" stroke="#d8e0f4" stroke-width="4.50"/><path d="M262.6 362.8L256.8 362.5" stroke="#d8e0f4" stroke-width="4.50"/><path d="M256.8 362.5L251.0 362.2" stroke="#d8e0f4" stroke-width="4.50"/><path d="M251.0 362.2L245.3 361.8" stroke="#d8e0f4" stroke-width="4.50"/><path d="M245.3 361.8L239.7 361.3" stroke="#d8e0f4" stroke-width="4.50"/><path d="M239.7 361.3L234.2 360.7" stroke="#d8e0f4" stroke-width="4.50"/><path d="M234.2 360.7L228.7 360.1" stroke="#d8e0f4" stroke-width="4.50"/><path d="M228.7 360.1L223.4 359.4" stroke="#d8e0f4" stroke-width="4.50"/><path d="M223.4 359.4L218.1 358.6" stroke="#d8e0f4" stroke-width="4.50"/><path d="M218.1 358.6L213.0 357.8" stroke="#d8e0f4" stroke-width="4.50"/><path d="M213.0 357.8L208.0 356.9" stroke="#d9dee0" stroke-width="4.50"/><path d="M208.0 356.9L203.1 355.9" stroke="#e0d691" stroke-width="4.50"/><path d="M203.1 355.9L198.3 354.9" stroke="#e2d47e" stroke-width="4.50"/><path d="M198.3 354.9L193.7 353.8" stroke="#e2d47e" stroke-width="4.50"/><path d="M193.7 353.8L189.1 352.6" stroke="#e2d47e" stroke-width="4.50"/><path d="M189.1 352.6L184.8 351.4" stroke="#e2d47e" stroke-width="4.50"/><path d="M184.8 351.4L180.6 350.1" stroke="#e2d47e" stroke-width="4.50"/><path d="M180.6 350.1L176.5 348.8" stroke="#e2d47e" stroke-width="4.50"/><path d="M176.5 348.8L172.6 347.4" stroke="#e2d47e" stroke-width="4.50"/><path d="M172.6 347.4L168.9 345.9" stroke="#e2d47e" stroke-width="4.50"/><path d="M168.9 345.9L165.3 344.4" stroke="#e2d47e" stroke-width="4.50"/><path d="M165.3 344.4L161.9 342.9" stroke="#e2d47e" stroke-width="4.50"/><path d="M161.9 342.9L158.7 341.3" stroke="#e2d47e" stroke-width="4.50"/><path d="M158.7 341.3L155.6 339.6" stroke="#e2d47e" stroke-width="4.50"/><path d="M155.6 339.6L152.8 337.9" stroke="#e2d47e" stroke-width="4.50"/><path d="M152.8 337.9L150.1 336.2" stroke="#e2d47e" stroke-width="4.50"/><path d="M150.1 336.2L147.6 334.4" stroke="#e2d47e" stroke-width="4.50"/><path d="M147.6 334.4L145.4 332.6" stroke="#e2d47e" stroke-width="4.50"/><path d="M145.4 332.6L143.3 330.7" stroke="#e2d47e" stroke-width="4.50"/><path d="M143.3 330.7L141.4 328.8" stroke="#e2d47e" stroke-width="4.50"/><path d="M141.4 328.8L139.7 326.9" stroke="#e2d47e" stroke-width="4.50"/><path d="M139.7 326.9L138.2 324.9" stroke="#e2d47e" stroke-width="4.50"/><path d="M138.2 324.9L137.0 322.9" stroke="#e2d47e" stroke-width="4.50"/><path d="M137.0 322.9L135.9 320.9" stroke="#e2d47e" stroke-width="4.50"/><path d="M135.9 320.9L135.0 318.9" stroke="#e2d47e" stroke-width="4.50"/><path d="M135.0 318.9L134.4 316.8" stroke="#e2d47e" stroke-width="4.50"/><path d="M134.4 316.8L133.9 314.8" stroke="#e2d47e" stroke-width="4.50"/><path d="M133.9 314.8L133.7 312.7" stroke="#e2d47e" stroke-width="4.50"/></g><g stroke-linecap="round" fill="none"><path d="M483.9 323.8L484.0 326.0" stroke="#e2d070" stroke-width="4.50"/><path d="M484.0 326.0L483.7 328.1" stroke="#e2d070" stroke-width="4.50"/><path d="M483.7 328.1L483.3 330.2" stroke="#e2d070" stroke-width="4.50"/><path d="M483.3 330.2L482.7 332.4" stroke="#e2d070" stroke-width="4.50"/><path d="M482.7 332.4L481.9 334.5" stroke="#e2d070" stroke-width="4.50"/><path d="M481.9 334.5L480.8 336.7" stroke="#e2d070" stroke-width="4.50"/><path d="M480.8 336.7L479.5 338.8" stroke="#e2d070" stroke-width="4.49"/><path d="M479.5 338.8L478.1 340.9" stroke="#e2d070" stroke-width="4.49"/><path d="M478.1 340.9L476.4 343.1" stroke="#e2d070" stroke-width="4.49"/><path d="M476.4 343.1L474.5 345.2" stroke="#e2d070" stroke-width="4.49"/><path d="M474.5 345.2L472.5 347.3" stroke="#e2d070" stroke-width="4.49"/><path d="M472.5 347.3L470.2 349.3" stroke="#e2d070" stroke-width="4.49"/><path d="M470.2 349.3L467.7 351.4" stroke="#e2d070" stroke-width="4.49"/><path d="M467.7 351.4L465.0 353.4" stroke="#e2d070" stroke-width="4.49"/><path d="M465.0 353.4L462.2 355.5" stroke="#e2d070" stroke-width="4.49"/><path d="M462.2 355.5L459.1 357.4" stroke="#e2d070" stroke-width="4.49"/><path d="M459.1 357.4L455.9 359.4" stroke="#e2d070" stroke-width="4.49"/><path d="M455.9 359.4L452.5 361.3" stroke="#e2d070" stroke-width="4.48"/><path d="M452.5 361.3L448.9 363.2" stroke="#e2d070" stroke-width="4.48"/><path d="M448.9 363.2L445.2 365.1" stroke="#e2d070" stroke-width="4.48"/><path d="M445.2 365.1L441.3 366.9" stroke="#e2d070" stroke-width="4.48"/><path d="M441.3 366.9L437.2 368.7" stroke="#e2d070" stroke-width="4.48"/><path d="M437.2 368.7L433.0 370.4" stroke="#e2d070" stroke-width="4.48"/><path d="M433.0 370.4L428.6 372.1" stroke="#e4d280" stroke-width="4.48"/><path d="M428.6 372.1L424.0 373.7" stroke="#e6d490" stroke-width="4.48"/><path d="M424.0 373.7L419.4 375.3" stroke="#e8d7a0" stroke-width="4.48"/><path d="M419.4 375.3L414.6 376.9" stroke="#ead9b0" stroke-width="4.48"/><path d="M414.6 376.9L409.6 378.3" stroke="#ecdcc0" stroke-width="4.48"/><path d="M409.6 378.3L404.6 379.8" stroke="#edd9cc" stroke-width="4.48"/><path d="M404.6 379.8L399.4 381.1" stroke="#eed7d8" stroke-width="4.47"/><path d="M399.4 381.1L394.1 382.5" stroke="#efd5e4" stroke-width="4.47"/><path d="M394.1 382.5L388.8 383.7" stroke="#f0d4ea" stroke-width="4.47"/><path d="M388.8 383.7L383.3 384.9" stroke="#f0d4ea" stroke-width="4.47"/><path d="M383.3 384.9L377.7 386.0" stroke="#f0d4ea" stroke-width="4.47"/><path d="M377.7 386.0L372.1 387.1" stroke="#f0d4ea" stroke-width="4.47"/><path d="M372.1 387.1L366.3 388.1" stroke="#f0d4ea" stroke-width="4.47"/><path d="M366.3 388.1L360.5 389.1" stroke="#f0d4ea" stroke-width="4.47"/><path d="M360.5 389.1L354.7 389.9" stroke="#f0d4ea" stroke-width="4.47"/><path d="M354.7 389.9L348.7 390.7" stroke="#f0d4ea" stroke-width="4.47"/><path d="M348.7 390.7L342.8 391.4" stroke="#f0d4ea" stroke-width="4.47"/><path d="M342.8 391.4L336.8 392.1" stroke="#f0d4ea" stroke-width="4.46"/><path d="M336.8 392.1L330.7 392.7" stroke="#f0d4ea" stroke-width="4.46"/><path d="M330.7 392.7L324.7 393.2" stroke="#f0d4ea" stroke-width="4.46"/><path d="M324.7 393.2L318.6 393.6" stroke="#f0d4ea" stroke-width="4.46"/><path d="M318.6 393.6L312.5 394.0" stroke="#f0d4ea" stroke-width="4.46"/><path d="M312.5 394.0L306.4 394.3" stroke="#f0d4ea" stroke-width="4.46"/><path d="M306.4 394.3L300.3 394.5" stroke="#f0d4ea" stroke-width="4.46"/><path d="M300.3 394.5L294.2 394.7" stroke="#f0d4ea" stroke-width="4.46"/><path d="M294.2 394.7L288.1 394.7" stroke="#f0d4ea" stroke-width="4.46"/><path d="M288.1 394.7L282.1 394.7" stroke="#f0d4ea" stroke-width="4.46"/><path d="M282.1 394.7L276.1 394.7" stroke="#f0d4ea" stroke-width="4.46"/><path d="M276.1 394.7L270.1 394.5" stroke="#f0d4ea" stroke-width="4.46"/><path d="M270.1 394.5L264.2 394.3" stroke="#f0d4ea" stroke-width="4.45"/><path d="M264.2 394.3L258.3 394.0" stroke="#f0d4ea" stroke-width="4.45"/><path d="M258.3 394.0L252.5 393.6" stroke="#f0d4ea" stroke-width="4.45"/><path d="M252.5 393.6L246.8 393.1" stroke="#f0d4ea" stroke-width="4.45"/><path d="M246.8 393.1L241.1 392.6" stroke="#f0d4ea" stroke-width="4.45"/><path d="M241.1 392.6L235.6 392.0" stroke="#f0d4ea" stroke-width="4.45"/><path d="M235.6 392.0L230.1 391.3" stroke="#f0d4ea" stroke-width="4.45"/><path d="M230.1 391.3L224.7 390.6" stroke="#f0d4ea" stroke-width="4.45"/><path d="M224.7 390.6L219.4 389.8" stroke="#f0d4ea" stroke-width="4.45"/><path d="M219.4 389.8L214.2 388.9" stroke="#f0d4ea" stroke-width="4.45"/><path d="M214.2 388.9L209.1 388.0" stroke="#e6ca93" stroke-width="4.45"/><path d="M209.1 388.0L204.2 387.0" stroke="#e2c668" stroke-width="4.44"/><path d="M204.2 387.0L199.4 385.9" stroke="#e2c668" stroke-width="4.44"/><path d="M199.4 385.9L194.7 384.7" stroke="#e4bf7c" stroke-width="4.44"/><path d="M194.7 384.7L190.2 383.5" stroke="#e6b890" stroke-width="4.44"/><path d="M190.2 383.5L185.8 382.3" stroke="#e4a79c" stroke-width="4.44"/><path d="M185.8 382.3L181.5 381.0" stroke="#e397a9" stroke-width="4.44"/><path d="M181.5 381.0L177.5 379.6" stroke="#e287b5" stroke-width="4.44"/><path d="M177.5 379.6L173.5 378.1" stroke="#df7fbd" stroke-width="4.44"/><path d="M173.5 378.1L169.8 376.6" stroke="#db81c1" stroke-width="4.44"/><path d="M169.8 376.6L166.2 375.1" stroke="#d783c4" stroke-width="4.44"/><path d="M166.2 375.1L162.8 373.5" stroke="#d285c7" stroke-width="4.44"/><path d="M162.8 373.5L159.5 371.9" stroke="#ce87cb" stroke-width="4.44"/><path d="M159.5 371.9L156.5 370.2" stroke="#ca89ce" stroke-width="4.43"/><path d="M156.5 370.2L153.6 368.4" stroke="#c58bd0" stroke-width="4.43"/><path d="M153.6 368.4L150.9 366.6" stroke="#bf8dd2" stroke-width="4.43"/><path d="M150.9 366.6L148.4 364.8" stroke="#b990d4" stroke-width="4.43"/><path d="M148.4 364.8L146.1 363.0" stroke="#b392d6" stroke-width="4.43"/><path d="M146.1 363.0L144.0 361.1" stroke="#ad95d8" stroke-width="4.43"/><path d="M144.0 361.1L142.1 359.1" stroke="#a898da" stroke-width="4.43"/><path d="M142.1 359.1L140.4 357.2" stroke="#9f8fd6" stroke-width="4.43"/><path d="M140.4 357.2L139.0 355.2" stroke="#9686d2" stroke-width="4.43"/><path d="M139.0 355.2L137.7 353.2" stroke="#8e7ecf" stroke-width="4.43"/><path d="M137.7 353.2L136.6 351.1" stroke="#8575cb" stroke-width="4.43"/><path d="M136.6 351.1L135.8 349.1" stroke="#7c6cc7" stroke-width="4.42"/><path d="M135.8 349.1L135.1 347.0" stroke="#7464c4" stroke-width="4.42"/><path d="M135.1 347.0L134.7 344.9" stroke="#7062c2" stroke-width="4.42"/><path d="M134.7 344.9L134.5 342.8" stroke="#6d60c1" stroke-width="4.42"/></g><path d="M300.9 316.2L533.5 316" stroke="#3d4ea8" stroke-width="1.8"/><circle cx="300.9" cy="316.2" r="5" fill="#3d4ea8"/><circle cx="533.5" cy="316" r="5.2" fill="#3d4ea8"/><rect x="206.5" y="216" width="34.5" height="110" rx="8" fill="url(#gBox1)"/><rect x="366.3" y="257.9" width="33.4" height="106.4" rx="8" fill="url(#gBox2)"/><rect x="424.2" y="256.5" width="33.8" height="103.5" rx="8" fill="url(#gBox3)"/><text class="ra w" fill-opacity="0.9" style="fill-opacity:0.9" transform="translate(209.1,226.6) rotate(90)">Resource Advantage</text><text class="ra w" fill-opacity="0.9" style="fill-opacity:0.9" transform="translate(367.0,265.0) rotate(90)">Resource Advantage</text><text class="ra w" fill-opacity="0.9" style="fill-opacity:0.9" transform="translate(429.5,264.5) rotate(90)">Resource Advantage</text><text class="cn w" x="226.3" y="260.0" text-anchor="middle">大</text><text class="cn w" x="226.3" y="275.0" text-anchor="middle">数</text><text class="cn w" x="226.3" y="290.0" text-anchor="middle">据</text><text class="cn w" x="387.0" y="295.5" text-anchor="middle">区</text><text class="cn w" x="387.0" y="312.2" text-anchor="middle">块</text><text class="cn w" x="387.0" y="328.9" text-anchor="middle">链</text><text class="cn w" x="447.0" y="302.5" text-anchor="middle">云</text><text class="cn w" x="447.0" y="317.5" text-anchor="middle">计</text><text class="cn w" x="447.0" y="332.5" text-anchor="middle">算</text><circle cx="417.6" cy="52.0" r="6.5" fill="#f9bd12"/><circle cx="206.4" cy="76.4" r="6.8" fill="#3d55ab"/><circle cx="316.5" cy="95.9" r="7.2" fill="#f29b42"/><circle cx="163.2" cy="97.0" r="12.6" fill="#f29b42"/><circle cx="243.5" cy="104.7" r="6.6" fill="#ea6545"/><circle cx="292.6" cy="133.6" r="27.1" fill="#fbbb12"/><circle cx="387.8" cy="128.0" r="12.6" fill="#ea6545"/><circle cx="451.7" cy="139.4" r="11.6" fill="#fbbb12"/><circle cx="461.5" cy="167.7" r="8.0" fill="#3d55ab"/><circle cx="210.8" cy="179.0" r="8.3" fill="#ea6545"/><circle cx="150.9" cy="208.1" r="12.0" fill="#4b2b94"/><circle cx="339.7" cy="207.2" r="13.8" fill="#f29b42"/><text class="cn" x="391.5" y="24.1">科技资金</text><text class="ra" x="384.2" y="36.4">Resource Advantage</text><text class="cn" x="170.7" y="52.8">科创融资</text><text class="ra" x="159.1" y="67.2">Resource Advantage</text><text class="cn" x="294.6" y="75.3">专家人才</text><text class="ra" x="282.2" y="85.9">Resource Advantage</text><text class="cn" x="127.0" y="127.8">科技服务</text><text class="ra" x="115.2" y="140.2">Resource Advantage</text><text class="cn" x="419.6" y="112.0">公共服务</text><text class="ra" x="406.0" y="123.9">Resource Advantage</text><text class="cn" x="354.6" y="161.4">科研仪器</text><text class="ra" x="350.6" y="171.6">Resource Advantage</text><text class="cn" x="257.2" y="180.0">科技成果</text><text class="ra" x="246.1" y="189.9">Resource Advantage</text><text class="cn" x="431.4" y="194.9">孵化育成</text><text class="ra" x="420.3" y="206.2">Resource Advantage</text><text class="cn" x="115.7" y="240.4">技术需求</text><text class="ra" x="106.6" y="250.3">Resource Advantage</text><text class="cn" x="303.4" y="237.3">知识产权</text><text class="ra" x="292.6" y="248.3">Resource Advantage</text><path d="M71.6 347.5L305.8 350.4" stroke="#4b2a8c" stroke-width="2"/><circle cx="71.6" cy="347.2" r="4.8" fill="#4b2a8c"/><circle cx="305.8" cy="350.4" r="5.5" fill="#4b2a8c"/><path d="M74.6 409L283 409.4" stroke="#ec6a46" stroke-width="2"/><circle cx="74.6" cy="409.2" r="5" fill="#ec6a46"/><circle cx="283" cy="409.4" r="5.5" fill="#ec6a46"/><text class="cn" style="font-size:16px" x="11.2" y="353.6">能力层</text><text class="ra" x="11.3" y="368.0">Resource Advantage</text><text class="cn" style="font-size:16px" x="12.7" y="416.6">数据层</text><text class="ra" x="12.8" y="432.3">Resource Advantage</text><text class="cn" style="font-size:16px" x="540.5" y="324.3">服务层</text><text class="ra" x="540.6" y="337.0">Resource Advantage</text></svg></body></html>
